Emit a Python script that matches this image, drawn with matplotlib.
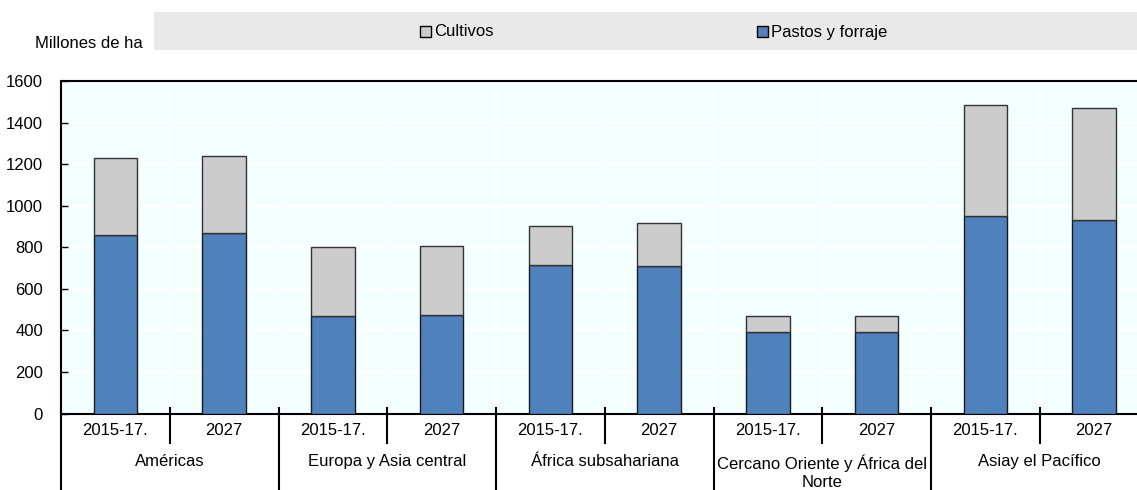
import matplotlib
matplotlib.use("Agg")
import matplotlib.pyplot as plt
import matplotlib.patches as patches
import matplotlib.transforms as mtransforms
import numpy as np

plt.rcParams['font.family'] = ['Liberation Sans Narrow', 'Liberation Sans', 'DejaVu Sans']

# data (millones de ha)
regions = ['Américas', 'Europa y Asia central', 'África subsahariana',
           'Cercano Oriente y África del\nNorte', 'Asiay el Pacífico']
periods = ['2015-17.', '2027']
pastos = [860, 870, 468, 476, 714, 711, 392, 392, 950, 930]
cultivos_total = [1228, 1240, 799, 805, 902, 915, 470, 470, 1484, 1471]
cultivos = [t - p for t, p in zip(cultivos_total, pastos)]

col_pastos = '#4F81BD'
col_cultivos = '#CCCCCC'
bg = '#F4FFFF'
fs = 12

fig = plt.figure(figsize=(11.37, 4.9), dpi=100)
W, H = 1137, 490
ax = fig.add_axes([61 / W, 1 - 413.5 / H, (1148.5 - 61) / W, (413.5 - 81) / H])
ax.set_facecolor(bg)

x = np.arange(len(pastos))
ax.bar(x, pastos, width=0.4, color=col_pastos, edgecolor='#1a1a1a', linewidth=1.0, zorder=3)
ax.bar(x, cultivos, width=0.4, bottom=pastos, color=col_cultivos, edgecolor='#333333',
       linewidth=1.0, zorder=3)

ax.set_xlim(-0.5, len(pastos) - 0.5)
ax.set_ylim(0, 1600)
ax.set_yticks(np.arange(0, 1601, 200))
ax.tick_params(axis='y', direction='in', length=5, width=1, labelsize=fs, pad=13)

# white grid
for v in np.arange(200, 1600, 200):
    ax.axhline(v, color='white', lw=1.5, zorder=1)
for b in np.arange(0.5, len(pastos) - 0.5, 1):
    ax.axvline(b, color='white', lw=1.5, zorder=1)

ax.spines['right'].set_visible(False)
ax.spines['left'].set_linewidth(1.5)
ax.spines['top'].set_linewidth(1.5)
ax.spines['bottom'].set_linewidth(1.5)

# two-level x labels
ax.set_xticks([])
tr = mtransforms.blended_transform_factory(ax.transData, ax.transAxes)
ah = 413.5 - 81
for i in range(len(pastos)):
    ax.text(i, -(430 - 413.5) / ah, periods[i % 2], transform=tr, ha='center', va='center',
            fontsize=fs)
for g, name in enumerate(regions):
    ax.text(2 * g + 0.5, -(454 - 413.5) / ah, name, transform=tr, ha='center', va='top',
            fontsize=fs, linespacing=1.3)
    # short separator between periods
    ax.plot([2 * g + 0.5, 2 * g + 0.5], [(413.5 - 408) / ah, -(443 - 413.5) / ah],
            transform=tr, color='black', lw=1.5, clip_on=False)
    # long separator between regions
    ax.plot([2 * g - 0.5, 2 * g - 0.5], [(413.5 - 408) / ah, -(490 - 413.5) / ah],
            transform=tr, color='black', lw=1.5, clip_on=False)

# legend band
fig.patches.append(patches.Rectangle((154 / W, 1 - 50.5 / H), (W - 154) / W, 38 / H,
                                     transform=fig.transFigure, facecolor='#E9E9E9',
                                     edgecolor='none', zorder=0))
for label, col, x0 in [('Cultivos', col_cultivos, 420), ('Pastos y forraje', col_pastos, 757)]:
    fig.patches.append(patches.Rectangle((x0 / W, 1 - 37.5 / H), 11 / W, 11 / H,
                                         transform=fig.transFigure, facecolor=col,
                                         edgecolor='black', linewidth=1.0, zorder=2))
    fig.text((x0 + 14) / W, 1 - 32 / H, label, ha='left', va='center', fontsize=fs)

fig.text(35 / W, 1 - 44 / H, 'Millones de ha', ha='left', va='center', fontsize=fs)

fig.savefig('out.png', dpi=100)
